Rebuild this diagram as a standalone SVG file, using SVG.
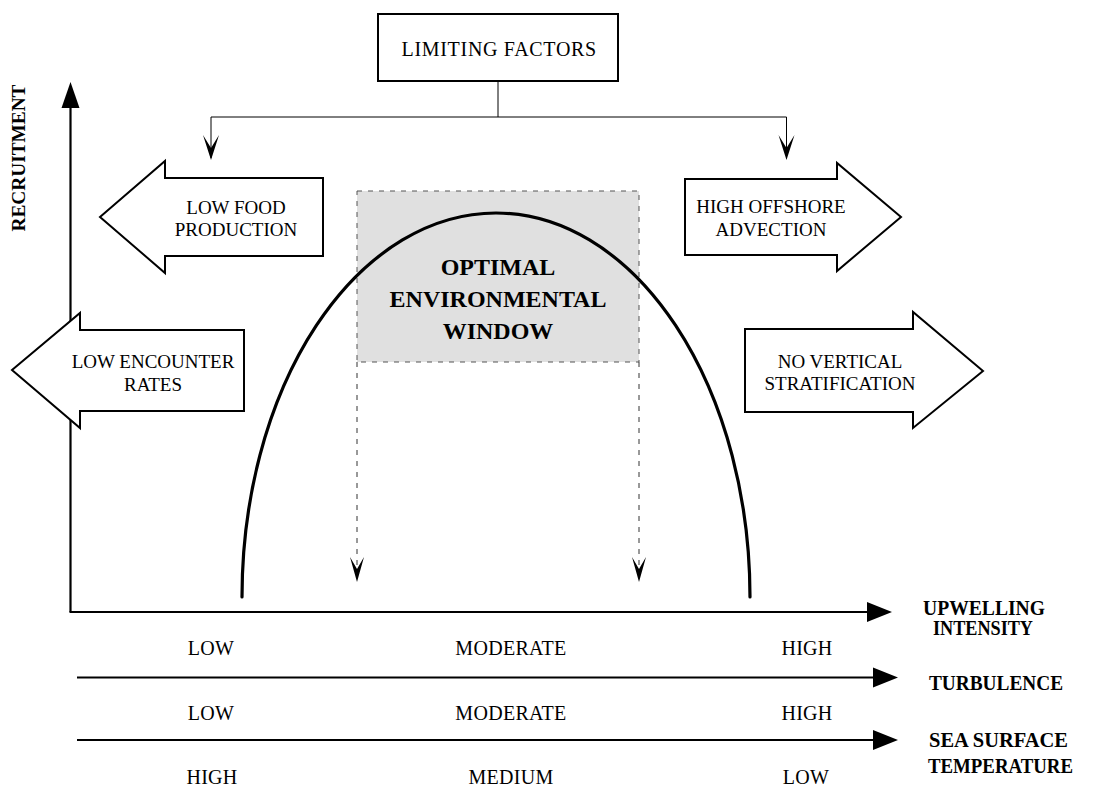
<svg xmlns="http://www.w3.org/2000/svg" width="1104" height="787" viewBox="0 0 1104 787">
<style>
.t{font-family:"Liberation Serif","Times New Roman",serif;font-size:19px;fill:#000;text-anchor:middle}
.r{font-family:"Liberation Serif","Times New Roman",serif;font-size:20px;fill:#000;text-anchor:middle;letter-spacing:0.3px}
.b{font-family:"Liberation Serif","Times New Roman",serif;font-weight:bold;fill:#000}
.shape{fill:#fff;stroke:#000;stroke-width:2}
.thin{fill:none;stroke:#000;stroke-width:1}
.axis{fill:none;stroke:#000;stroke-width:2.2}
.dash{fill:none;stroke:#333;stroke-width:1;stroke-dasharray:5 6}
</style>
<defs>
<marker id="vhead" markerWidth="16" markerHeight="26" refX="8" refY="25" orient="0" markerUnits="userSpaceOnUse">
<polygon points="0,0 8,25 16,0 8,13" fill="#000"/>
</marker>
<marker id="vhead2" markerWidth="14" markerHeight="26" refX="7" refY="25" orient="0" markerUnits="userSpaceOnUse">
<polygon points="0,0 7,25 14,0 7,13" fill="#000"/>
</marker>
</defs>

<g id="axes">
<line class="axis" x1="70.5" y1="612" x2="70.5" y2="106"/>
<polygon points="70.5,82 61.5,108 79.5,108" fill="#000"/>
<line class="axis" x1="69.5" y1="612" x2="870" y2="612"/>
<polygon points="892,612 867,602 867,622" fill="#000"/>
<line class="axis" x1="77" y1="677.5" x2="875" y2="677.5"/>
<polygon points="898,677.5 873,667.5 873,687.5" fill="#000"/>
<line class="axis" x1="77" y1="740" x2="875" y2="740"/>
<polygon points="898,740 873,730 873,750" fill="#000"/>
</g>

<g id="recruitment-label">
<text class="b" font-size="19" text-anchor="middle" transform="translate(25,158) rotate(-90)" textLength="147" lengthAdjust="spacingAndGlyphs">RECRUITMENT</text>
</g>

<g id="window">
<rect x="357" y="191" width="282" height="171" fill="#e0e0e0" stroke="#555" stroke-width="1" stroke-dasharray="5 6"/>
<text class="b" font-size="24" text-anchor="middle" x="498" y="275">OPTIMAL</text>
<text class="b" font-size="24" text-anchor="middle" x="498" y="307">ENVIRONMENTAL</text>
<text class="b" font-size="24" text-anchor="middle" x="498" y="339">WINDOW</text>
</g>

<g id="curve">
<path d="M242,597 A254,384 0 0 1 750,597" fill="none" stroke="#000" stroke-width="3.2" stroke-linecap="round"/>
</g>

<g id="limiting-factors">
<rect class="shape" x="378" y="14" width="240" height="67" stroke-width="1.8"/>
<text class="r" x="499" y="56" textLength="195" lengthAdjust="spacing">LIMITING FACTORS</text>
</g>

<g id="low-food">
<polygon class="shape" points="100,217 165,161 165,178 323,178 323,256 165,256 165,273"/>
<text class="t" x="236" y="214">LOW FOOD</text>
<text class="t" x="236" y="236">PRODUCTION</text>
</g>

<g id="low-encounter">
<polygon class="shape" points="12,370 80,313 80,330 244,330 244,411 80,411 80,428"/>
<text class="t" x="153" y="368">LOW ENCOUNTER</text>
<text class="t" x="153" y="391">RATES</text>
</g>

<g id="high-offshore">
<polygon class="shape" points="901,217 837,163 837,179 685,179 685,255 837,255 837,271"/>
<text class="t" x="771" y="213">HIGH OFFSHORE</text>
<text class="t" x="771" y="236">ADVECTION</text>
</g>

<g id="no-vertical">
<polygon class="shape" points="983,371 913,312 913,329 745,329 745,412 913,412 913,428"/>
<text class="t" x="840" y="368">NO VERTICAL</text>
<text class="t" x="840" y="390">STRATIFICATION</text>
</g>

<g id="connectors">
<path class="thin" d="M498,81 V117 M211,117 H786.5 M211,117 V158 M786.5,117 V158"/>
<polygon points="203,135 211,160 219,135 211,148" fill="#000"/>
<polygon points="778.5,135 786.5,160 794.5,135 786.5,148" fill="#000"/>
<line class="dash" x1="357" y1="362" x2="357" y2="578"/>
<line class="dash" x1="639" y1="362" x2="639" y2="578"/>
<polygon points="350,557 357,582 364,557 357,569" fill="#000"/>
<polygon points="632,557 639,582 646,557 639,569" fill="#000"/>
</g>

<g id="axis-labels">
<text class="b" font-size="20" x="923" y="615" textLength="122" lengthAdjust="spacingAndGlyphs">UPWELLING</text>
<text class="b" font-size="20" x="933" y="635" textLength="100" lengthAdjust="spacingAndGlyphs">INTENSITY</text>
<text class="b" font-size="20" x="929" y="690" textLength="134" lengthAdjust="spacingAndGlyphs">TURBULENCE</text>
<text class="b" font-size="20" x="929" y="747" textLength="139" lengthAdjust="spacingAndGlyphs">SEA SURFACE</text>
<text class="b" font-size="20" x="928" y="773" textLength="145" lengthAdjust="spacingAndGlyphs">TEMPERATURE</text>
</g>

<g id="scale-labels">
<text class="r" x="211" y="655">LOW</text>
<text class="r" x="511" y="655">MODERATE</text>
<text class="r" x="807" y="655">HIGH</text>
<text class="r" x="211" y="720">LOW</text>
<text class="r" x="511" y="720">MODERATE</text>
<text class="r" x="807" y="720">HIGH</text>
<text class="r" x="212" y="784">HIGH</text>
<text class="r" x="511" y="784">MEDIUM</text>
<text class="r" x="806" y="784">LOW</text>
</g>
</svg>
